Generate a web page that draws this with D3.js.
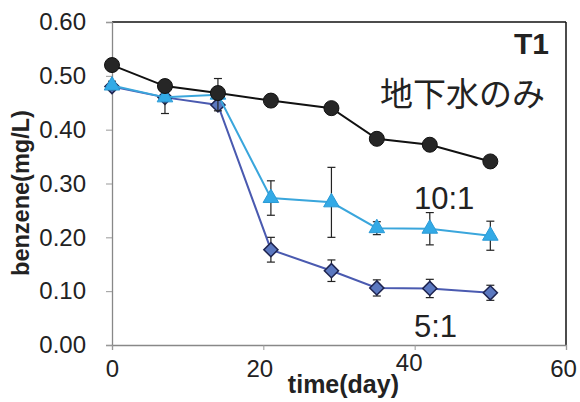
<!DOCTYPE html>
<html><head><meta charset="utf-8">
<script src="https://cdn.jsdelivr.net/npm/d3@7"></script>
<style>body{margin:0;background:#fff}svg{display:block}</style>
</head><body>
<svg id="c" width="580" height="402"></svg>
<script>
const days = [0, 7, 14, 21, 29, 35, 42, 50];
const groundwater = [0.52, 0.481, 0.468, 0.454, 0.440, 0.383, 0.372, 0.341];
const ratio10 = [0.482, 0.460, 0.465, 0.273, 0.265, 0.217, 0.216, 0.203];
const ratio10Err = [0.008, 0.030, 0.030, 0.032, 0.065, 0.012, 0.030, 0.027];
const ratio5 = [0.480, 0.460, 0.446, 0.177, 0.138, 0.106, 0.105, 0.097];
const ratio5Err = [0.006, 0.005, 0.006, 0.023, 0.020, 0.015, 0.017, 0.014];
const yTicks = [0, 0.1, 0.2, 0.3, 0.4, 0.5, 0.6];
const xTicks = [0, 20, 40, 60];

const svg = d3.select('#c');
const x = d3.scaleLinear().domain([0, 60]).range([112, 566]);
const y = d3.scaleLinear().domain([0, 0.6]).range([345, 22]);
const font = 'Liberation Sans, Arial, sans-serif';

// frame
svg.append('line').attr('x1', x(0)).attr('x2', x(60)).attr('y1', y(0.6)).attr('y2', y(0.6)).attr('stroke', '#111').attr('stroke-width', 1.5);
svg.append('line').attr('x1', x(60)).attr('x2', x(60)).attr('y1', y(0.6)).attr('y2', y(0)).attr('stroke', '#111').attr('stroke-width', 1.5);

const yAxis = svg.append('g').attr('transform', `translate(${x(0)},0)`)
  .call(d3.axisLeft(y).tickValues(yTicks).tickFormat(d3.format('.2f')).tickSize(6).tickPadding(20));
const xAxis = svg.append('g').attr('transform', `translate(0,${y(0)})`)
  .call(d3.axisBottom(x).tickValues(xTicks).tickFormat(d3.format('d')).tickSize(5).tickPadding(16));
[yAxis, xAxis].forEach(a => {
  a.select('.domain').attr('stroke', '#888').attr('stroke-width', 1.3);
  a.selectAll('.tick line').attr('stroke', '#999');
  a.selectAll('text').attr('font-family', font).attr('font-size', 24).attr('fill', '#222');
});
xAxis.selectAll('.tick text').attr('dx', d => d === 20 ? -4 : (d === 40 ? -6 : (d === 60 ? -3 : 0)))
  .attr('dy', d => d === 40 ? '0.2em' : '0.45em');

// error bars
function errBars(vals, errs) {
  const g = svg.append('g').attr('stroke', '#222').attr('stroke-width', 1.2);
  days.forEach((d, i) => {
    const cx = x(d), y1 = y(vals[i] + errs[i]), y2 = y(vals[i] - errs[i]);
    g.append('line').attr('x1', cx).attr('x2', cx).attr('y1', y1).attr('y2', y2);
    g.append('line').attr('x1', cx - 4).attr('x2', cx + 4).attr('y1', y1).attr('y2', y1);
    g.append('line').attr('x1', cx - 4).attr('x2', cx + 4).attr('y1', y2).attr('y2', y2);
  });
}
const line = vals => d3.line().x((d, i) => x(days[i])).y(d => y(d))(vals);

// 5:1 series
errBars(ratio5, ratio5Err);
svg.append('path').attr('d', line(ratio5)).attr('fill', 'none').attr('stroke', '#4a5ab0').attr('stroke-width', 2);
svg.append('g').selectAll('path').data(ratio5).join('path')
  .attr('d', d3.symbol(d3.symbolSquare, 100))
  .attr('transform', (d, i) => `translate(${x(days[i])},${y(d)}) rotate(45)`)
  .attr('fill', '#5b78c0').attr('stroke', '#1e2450').attr('stroke-width', 1.5);

// 10:1 series
errBars(ratio10, ratio10Err);
svg.append('path').attr('d', line(ratio10)).attr('fill', 'none').attr('stroke', '#3aa6dc').attr('stroke-width', 2);
svg.append('g').selectAll('path').data(ratio10).join('path')
  .attr('d', d3.symbol(d3.symbolTriangle, 105))
  .attr('transform', (d, i) => `translate(${x(days[i])},${y(d)})`)
  .attr('fill', '#33aae6').attr('stroke', '#2a9ad6').attr('stroke-width', 1);

// groundwater only series
svg.append('path').attr('d', line(groundwater)).attr('fill', 'none').attr('stroke', '#111').attr('stroke-width', 2);
svg.append('g').selectAll('circle').data(groundwater).join('circle')
  .attr('cx', (d, i) => x(days[i])).attr('cy', d => y(d)).attr('r', 7.5)
  .attr('fill', '#262626').attr('stroke', '#111').attr('stroke-width', 1);

// labels
svg.append('text').attr('x', 399).attr('y', 393).attr('text-anchor', 'end')
  .attr('font-family', font).attr('font-weight', 'bold').attr('font-size', 25).attr('fill', '#222').text('time(day)');
svg.append('text').attr('transform', 'translate(29,193) rotate(-90)').attr('text-anchor', 'middle')
  .attr('font-family', font).attr('font-weight', 'bold').attr('font-size', 23.5).attr('fill', '#222').text('benzene(mg/L)');
svg.append('text').attr('x', 549).attr('y', 54).attr('text-anchor', 'end')
  .attr('font-family', font).attr('font-weight', 'bold').attr('font-size', 30).attr('fill', '#222').text('T1');
svg.append('text').attr('x', 545).attr('y', 106).attr('text-anchor', 'end')
  .attr('font-family', 'Noto Sans CJK JP, sans-serif').attr('font-size', 33).attr('fill', '#222').text('地下水のみ');
svg.append('text').attr('x', 414).attr('y', 209)
  .attr('font-family', font).attr('font-size', 31).attr('fill', '#222').text('10:1');
svg.append('text').attr('x', 414).attr('y', 337)
  .attr('font-family', font).attr('font-size', 31).attr('fill', '#222').text('5:1');
</script>
</body></html>
